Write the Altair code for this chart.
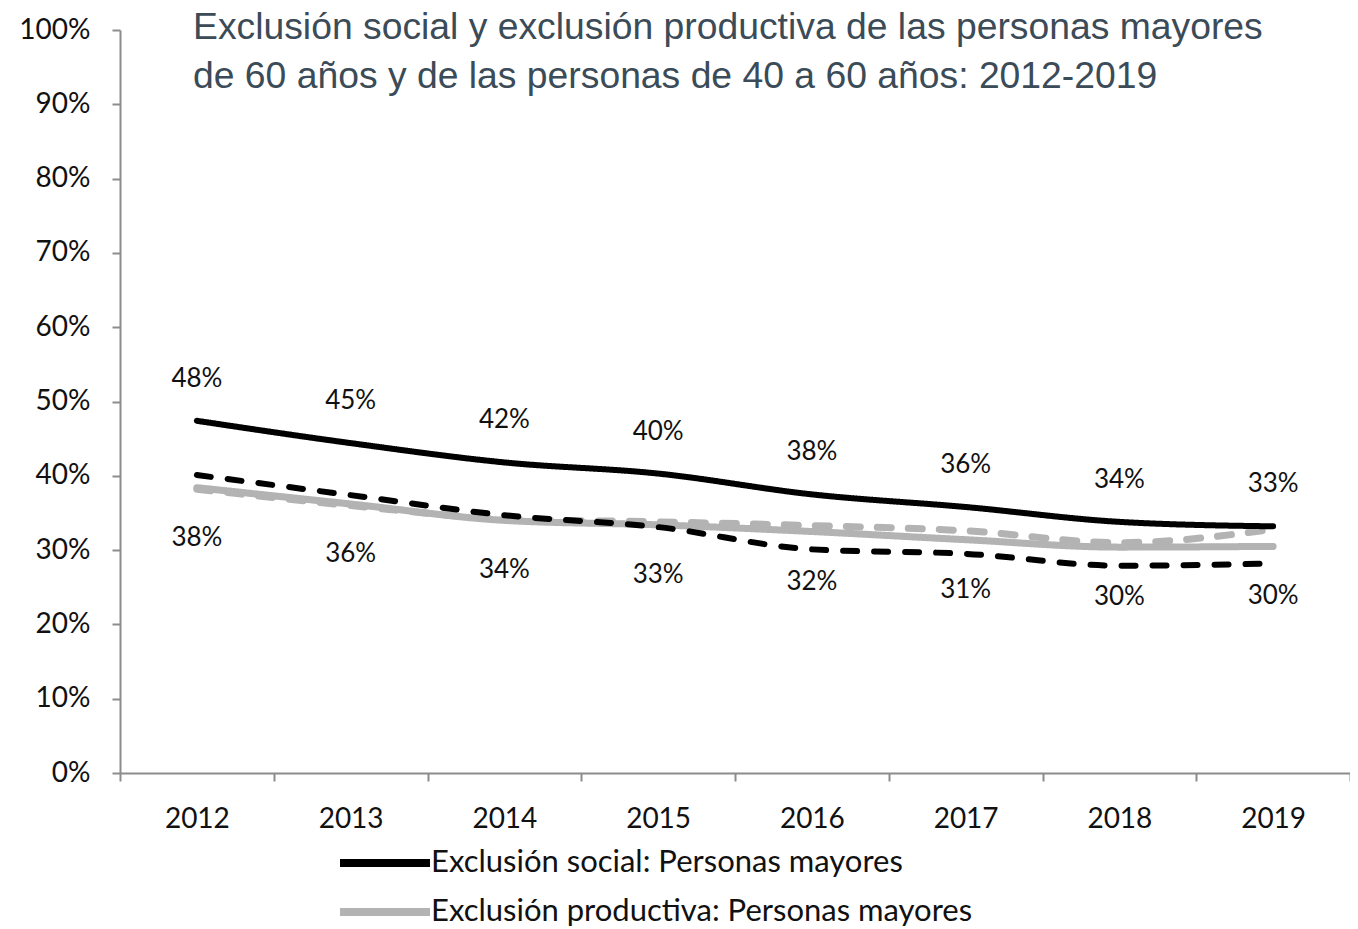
import altair as alt
import pandas as pd

years = ["2012", "2013", "2014", "2015", "2016", "2017", "2018", "2019"]

social_mayores = [47.4, 44.4, 41.8, 40.3, 37.5, 35.8, 33.8, 33.2]
productiva_mayores = [38.4, 36.2, 34.0, 33.4, 32.5, 31.4, 30.4, 30.5]
social_40_60 = [40.1, 37.4, 34.7, 33.1, 30.1, 29.5, 27.9, 28.2]
productiva_40_60 = [38.2, 36.0, 34.2, 33.8, 33.3, 32.6, 31.0, 32.8]

upper_labels = ["48%", "45%", "42%", "40%", "38%", "36%", "34%", "33%"]
lower_labels = ["38%", "36%", "34%", "33%", "32%", "31%", "30%", "30%"]

y_ticks = [0, 10, 20, 30, 40, 50, 60, 70, 80, 90, 100]

s1 = "Exclusión social: Personas mayores"
s2 = "Exclusión productiva: Personas mayores"
s3 = "Exclusión social: Personas de 40 a 60 años"
s4 = "Exclusión productiva: Personas de 40 a 60 años"
series_names = [s1, s2, s3, s4]
series_values = [social_mayores, productiva_mayores, social_40_60, productiva_40_60]

title_lines = [
    "Exclusión social y exclusión productiva de las personas mayores",
    "de 60 años y de las personas de 40 a 60 años: 2012-2019",
]

rows = []
for name, vals in zip(series_names, series_values):
    for yr, v in zip(years, vals):
        rows.append({"year": yr, "serie": name, "value": v})
df = pd.DataFrame(rows)

labels_df = pd.DataFrame({
    "year": years,
    "top_y": social_mayores,
    "top_lab": upper_labels,
    "bot_y": productiva_mayores,
    "bot_lab": lower_labels,
})

AXIS_COLOR = "#8c8c8c"
TEXT_COLOR = "#111111"
LABEL_FONT = "Lato"

x_enc = alt.X(
    "year:O",
    scale=alt.Scale(type="band", paddingInner=0, paddingOuter=0),
    bandPosition=0.5,
    axis=alt.Axis(title=None, labelAngle=0, tickBand="extent", labelPadding=24),
)
y_enc = alt.Y(
    "value:Q",
    scale=alt.Scale(domain=[0, 100], nice=False),
    axis=alt.Axis(title=None, values=y_ticks, labelExpr="datum.value + '%'",
                  grid=False, labelPadding=22),
)

color_enc = alt.Color(
    "serie:N",
    scale=alt.Scale(domain=series_names,
                    range=["#000000", "#b3b3b3", "#000000", "#b3b3b3"]),
    legend=alt.Legend(
        values=[s1, s2], orient="none", legendX=243, legendY=811, title=None,
        direction="vertical", symbolType="M-2.5,0H2.5", symbolSize=1296,
        symbolStrokeWidth=8, labelOffset=24, labelFont=LABEL_FONT,
        labelFontSize=31, labelColor=TEXT_COLOR, rowPadding=11, padding=0,
        labelLimit=0,
    ),
)
dash_enc = alt.StrokeDash(
    "serie:N",
    scale=alt.Scale(domain=series_names,
                    range=[[1, 0], [1, 0], [14, 17], [14, 17]]),
    legend=None,
)

base = alt.Chart(df)

def line(name, width):
    return base.transform_filter(alt.datum.serie == name).mark_line(
        strokeWidth=width, interpolate="monotone", strokeCap="round"
    ).encode(x=x_enc, y=y_enc, color=color_enc, strokeDash=dash_enc)

lines = [line(s2, 7), line(s4, 7), line(s3, 6), line(s1, 6)]

top_text = alt.Chart(labels_df).mark_text(
    font=LABEL_FONT, fontSize=26, color=TEXT_COLOR, dy=-42, baseline="middle"
).encode(x=alt.X("year:O", bandPosition=0.5), y="top_y:Q", text="top_lab:N")

bot_text = alt.Chart(labels_df).mark_text(
    font=LABEL_FONT, fontSize=26, color=TEXT_COLOR, dy=50, baseline="middle"
).encode(x=alt.X("year:O", bandPosition=0.5), y="bot_y:Q", text="bot_lab:N")

chart = alt.layer(*lines, top_text, bot_text).properties(
    width=1230,
    height=743,
    background="white",
    autosize=alt.AutoSizeParams(type="none"),
    padding={"left": 112, "top": 22, "right": 0, "bottom": 156},
    title=alt.TitleParams(
        text=title_lines, anchor="start", frame="group", dx=73, offset=0,
        baseline="top", dy=80, font="Liberation Sans", fontSize=37.3,
        fontWeight="normal", color="#3b4b57", lineHeight=49,
    ),
).configure_view(stroke=None).configure_axis(
    domainColor=AXIS_COLOR, domainWidth=2, tickColor=AXIS_COLOR, tickWidth=2,
    tickSize=8, labelFont=LABEL_FONT, labelFontSize=28, labelColor=TEXT_COLOR,
)

chart.save("out.html", embed_options={"renderer": "svg", "actions": False})
